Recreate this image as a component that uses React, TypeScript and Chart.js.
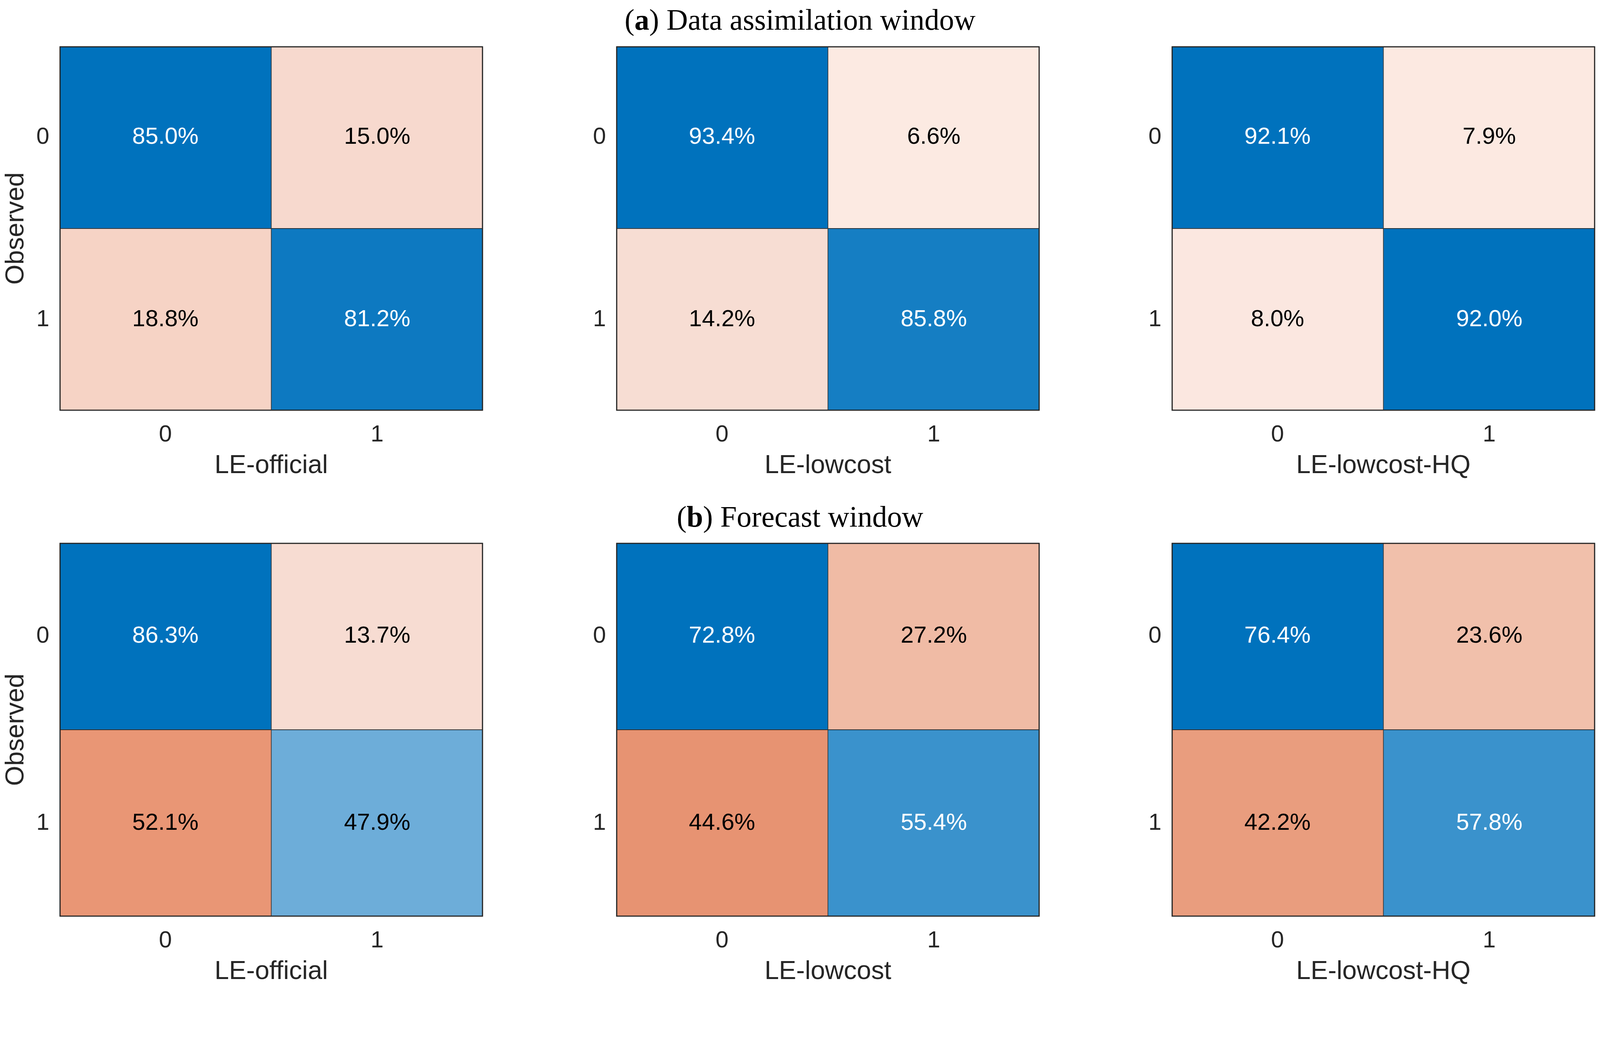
import React, { useEffect, useRef } from 'react';
import { Chart, registerables } from 'chart.js';

Chart.register(...registerables);

// ---------------- data ----------------
const predictedLabels = ['0', '1'];
const observedLabels = ['0', '1'];
const modelNames = ['LE-official', 'LE-lowcost', 'LE-lowcost-HQ'];
const yAxisTitle = 'Observed';
const windowTags = ['a', 'b'];
const windowNames = ['Data assimilation window', 'Forecast window'];

// rows = observed class, columns = predicted class (row-normalised %)
const daOfficial = [[85.0, 15.0], [18.8, 81.2]];
const daLowcost = [[93.4, 6.6], [14.2, 85.8]];
const daLowcostHQ = [[92.1, 7.9], [8.0, 92.0]];
const fcOfficial = [[86.3, 13.7], [52.1, 47.9]];
const fcLowcost = [[72.8, 27.2], [44.6, 55.4]];
const fcLowcostHQ = [[76.4, 23.6], [42.2, 57.8]];

// ---------------- styles ----------------
const daOfficialColors = [['#0072BD', '#F7D9CE'], ['#F6D3C5', '#0D79C1']];
const daLowcostColors = [['#0072BD', '#FCEAE2'], ['#F7DDD3', '#157EC3']];
const daLowcostHQColors = [['#0072BD', '#FCE9E1'], ['#FBE7E0', '#0072BD']];
const fcOfficialColors = [['#0072BD', '#F7DCD2'], ['#E99675', '#6DADD9']];
const fcLowcostColors = [['#0072BD', '#F0BBA5'], ['#E79372', '#3A92CC']];
const fcLowcostHQColors = [['#0072BD', '#F1C0AB'], ['#E99D7E', '#3A92CC']];

const PAGE_W = 4380;
const PAGE_H = 2703;
const BOX_LEFT = [163, 1687, 3207];
const BOX_W = 1159;
const BOX_TOP = [127, 1486];
const BOX_H = [998, 1023];
const PAD_L = 163;
const PAD_R = 8;
const PAD_T = 8;
const PAD_B = 190;
const TITLE_TOP = [14, 1374];
const TITLE_SIZE = 81;
const SANS = '"Liberation Sans", Arial, Helvetica, sans-serif';
const SERIF = '"Liberation Serif", "Times New Roman", serif';
const AXIS_COLOR = '#262626';

function isDark(hex: string): boolean {
  const r = parseInt(hex.slice(1, 3), 16);
  const g = parseInt(hex.slice(3, 5), 16);
  const b = parseInt(hex.slice(5, 7), 16);
  return 0.299 * r + 0.587 * g + 0.114 * b < 140;
}

type PanelProps = {
  matrix: number[][];
  colors: string[][];
  xTitle: string;
  showYTitle: boolean;
  col: number;
  row: number;
  s: number;
};

function Panel({ matrix, colors, xTitle, showYTitle, col, row, s }: PanelProps) {
  const ref = useRef<HTMLCanvasElement | null>(null);
  const width = Math.round((PAD_L + BOX_W + PAD_R) * s);
  const height = Math.round((PAD_T + BOX_H[row] + PAD_B) * s);
  const left = (BOX_LEFT[col] - PAD_L) * s;
  const top = (BOX_TOP[row] - PAD_T) * s;

  useEffect(() => {
    if (!ref.current) return;
    const cellText = {
      id: 'cellText',
      afterDatasetsDraw(chart: any) {
        const ctx = chart.ctx;
        ctx.save();
        ctx.font = `${64 * s}px ${SANS}`;
        ctx.textAlign = 'center';
        ctx.textBaseline = 'middle';
        chart.data.datasets.forEach((_ds: any, i: number) => {
          chart.getDatasetMeta(i).data.forEach((el: any, j: number) => {
            const p = el.getProps(['x', 'y', 'base'], true);
            ctx.fillStyle = isDark(colors[i][j]) ? '#FFFFFF' : '#000000';
            ctx.fillText(matrix[i][j].toFixed(1) + '%', p.x, (p.y + p.base) / 2);
          });
        });
        const a = chart.chartArea;
        const lw = 3 * s;
        ctx.strokeStyle = AXIS_COLOR;
        ctx.lineWidth = lw;
        ctx.strokeRect(a.left + lw / 2, a.top + lw / 2, a.right - a.left - lw, a.bottom - a.top - lw);
        ctx.restore();
      },
    };

    const chart = new Chart(ref.current, {
      type: 'bar',
      data: {
        labels: predictedLabels,
        datasets: observedLabels.map((obs, i) => ({
          label: 'Observed ' + obs,
          data: predictedLabels.map(() => 1),
          backgroundColor: colors[i],
          borderColor: AXIS_COLOR,
          borderWidth: 1.25 * s,
          borderSkipped: false,
          barPercentage: 1,
          categoryPercentage: 1,
          stack: 'cells',
        })),
      },
      options: {
        animation: false,
        responsive: false,
        events: [],
        layout: { padding: { left: 0, right: PAD_R * s, top: PAD_T * s, bottom: 0 } },
        plugins: { legend: { display: false }, tooltip: { enabled: false }, title: { display: false } },
        scales: {
          x: {
            type: 'category',
            stacked: true,
            offset: true,
            grid: { display: false, drawTicks: false },
            border: { display: false },
            ticks: {
              color: AXIS_COLOR,
              font: { family: SANS, size: 64 * s },
              padding: 28 * s,
              maxRotation: 0,
              autoSkip: false,
            },
            title: {
              display: true,
              text: xTitle,
              color: AXIS_COLOR,
              font: { family: SANS, size: 71 * s, lineHeight: 1 },
              padding: { top: 0, bottom: 3.5 * s },
            },
            afterFit: (sc: any) => {
              sc.height = PAD_B * s;
              sc.paddingLeft = 0;
              sc.paddingRight = 0;
            },
          },
          y: {
            type: 'linear',
            min: 0,
            max: observedLabels.length,
            reverse: true,
            stacked: true,
            grid: { display: false, drawTicks: false },
            border: { display: false },
            afterBuildTicks: (sc: any) => {
              sc.ticks = observedLabels.map((_l, i) => ({ value: i + 0.5 }));
            },
            ticks: {
              color: AXIS_COLOR,
              font: { family: SANS, size: 64 * s },
              padding: 28 * s,
              autoSkip: false,
              callback: (_v: any, idx: number) => observedLabels[idx],
            },
            title: {
              display: showYTitle,
              text: yAxisTitle,
              color: AXIS_COLOR,
              font: { family: SANS, size: 71 * s, lineHeight: 1 },
              padding: { top: 9.5 * s, bottom: 0 },
            },
            afterFit: (sc: any) => {
              sc.width = PAD_L * s;
              sc.paddingTop = 0;
              sc.paddingBottom = 0;
            },
          },
        },
      },
      plugins: [cellText],
    } as any);
    return () => chart.destroy();
  }, [matrix, colors, xTitle, showYTitle, row, col, s]);

  return (
    <canvas
      ref={ref}
      width={width}
      height={height}
      style={{ position: 'absolute', left, top, width, height }}
    />
  );
}

const panels = [
  { matrix: daOfficial, colors: daOfficialColors, row: 0, col: 0 },
  { matrix: daLowcost, colors: daLowcostColors, row: 0, col: 1 },
  { matrix: daLowcostHQ, colors: daLowcostHQColors, row: 0, col: 2 },
  { matrix: fcOfficial, colors: fcOfficialColors, row: 1, col: 0 },
  { matrix: fcLowcost, colors: fcLowcostColors, row: 1, col: 1 },
  { matrix: fcLowcostHQ, colors: fcLowcostHQColors, row: 1, col: 2 },
];

export default function App() {
  const vw = typeof window !== 'undefined' && window.innerWidth ? window.innerWidth : PAGE_W;
  const s = vw / PAGE_W;
  useEffect(() => {
    document.body.style.margin = '0';
    document.body.style.overflow = 'hidden';
    document.documentElement.style.overflow = 'hidden';
  }, []);
  return (
    <div
      style={{
        position: 'relative',
        width: PAGE_W * s,
        height: PAGE_H * s,
        overflow: 'hidden',
        background: '#FFFFFF',
      }}
    >
      <style>{`html,body{margin:0;padding:0;overflow:hidden;background:#fff}`}</style>
      {windowNames.map((name, r) => (
        <div
          key={name}
          style={{
            position: 'absolute',
            left: 0,
            width: PAGE_W * s,
            top: TITLE_TOP[r] * s,
            textAlign: 'center',
            fontFamily: SERIF,
            fontSize: TITLE_SIZE * s,
            lineHeight: `${TITLE_SIZE * s}px`,
            color: '#000000',
            whiteSpace: 'nowrap',
          }}
        >
          (<b>{windowTags[r]}</b>) {name}
        </div>
      ))}
      {panels.map((p, i) => (
        <Panel
          key={i}
          matrix={p.matrix}
          colors={p.colors}
          xTitle={modelNames[p.col]}
          showYTitle={p.col === 0}
          col={p.col}
          row={p.row}
          s={s}
        />
      ))}
    </div>
  );
}
